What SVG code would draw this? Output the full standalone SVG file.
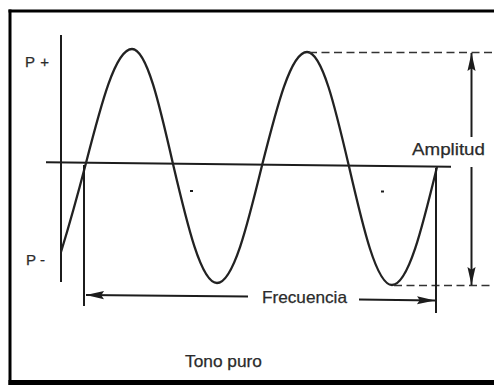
<svg xmlns="http://www.w3.org/2000/svg" width="494" height="385" viewBox="0 0 494 385">
  <style>
    .ln { fill: none; stroke: #1c1c1c; stroke-width: 2; stroke-linecap: butt; }
    .wave { fill: none; stroke: #222; stroke-width: 2.3; stroke-linejoin: round; }
    .dash { fill: none; stroke: #333; stroke-width: 1.6; stroke-dasharray: 8 4.5; }
    .lbl { font-family: "Liberation Sans", Arial, sans-serif; font-size: 16.5px; fill: #2b2b2b; stroke: #2b2b2b; stroke-width: 0.25; }
    .sm { font-size: 15px; }
  </style>
  <defs>
    <marker id="ah" viewBox="0 0 20 10" refX="20" refY="5" markerWidth="20" markerHeight="9" markerUnits="userSpaceOnUse" orient="auto-start-reverse">
      <path d="M0,0.5 L20,5 L0,9.5 L3,5 z" fill="#1c1c1c"/>
    </marker>
  </defs>
  <rect x="0" y="0" width="494" height="385" fill="#ffffff"/>
  <g id="frame">
    <line x1="8.5" y1="11" x2="494" y2="11" stroke="#000" stroke-width="3"/>
    <line x1="10" y1="9.5" x2="10" y2="385" stroke="#000" stroke-width="3"/>
    <rect x="8.5" y="380" width="485.5" height="5" fill="#000"/>
  </g>
  <g id="axes">
    <line class="ln" x1="61" y1="35" x2="61" y2="282" stroke-width="2.5"/>
    <line class="ln" x1="46" y1="162.3" x2="451" y2="166.8"/>
  </g>
  <g id="wave">
    <path class="wave" d="M61,252 C69,226 80,186 86,163 C101,104.6 115.4,49 132,49 C146.8,49 159.6,105.1 173,164 C187.3,225 201.1,283 217,283 C233.3,283 247.3,225.7 262,165.5 C276.7,107.4 290.7,52 307,52 C322.2,52 335.3,107.8 349,166.5 C363,227.2 376.4,285 392,285 C408.3,285 422.3,227.5 437,167"/>
    <line class="ln" x1="190" y1="191" x2="193" y2="191" stroke-width="1.5"/>
    <line class="ln" x1="381" y1="191.5" x2="384" y2="191.5" stroke-width="1.5"/>
  </g>
  <g id="connectors">
    <line class="dash" x1="309" y1="52.5" x2="494" y2="52.5"/>
    <line class="dash" x1="394" y1="285.5" x2="494" y2="285.5"/>
    <line class="ln" x1="84" y1="165" x2="84" y2="306" stroke-width="1.8"/>
    <line class="ln" x1="436" y1="168" x2="436" y2="313" stroke-width="1.8"/>
    <line class="ln" x1="248" y1="296.5" x2="86" y2="295" marker-end="url(#ah)"/>
    <line class="ln" x1="359" y1="299.5" x2="435" y2="300.5" marker-end="url(#ah)"/>
    <line class="ln" x1="471.5" y1="137" x2="471.5" y2="53" stroke-width="2.4" marker-end="url(#ah)"/>
    <line class="ln" x1="471.5" y1="167" x2="471.5" y2="285" stroke-width="2.4" marker-end="url(#ah)"/>
  </g>
  <g id="label-pplus"><text class="lbl sm" x="25" y="67" textLength="24" lengthAdjust="spacing">P+</text></g>
  <g id="label-pminus"><text class="lbl sm" x="26" y="265" textLength="19" lengthAdjust="spacingAndGlyphs">P -</text></g>
  <g id="label-amplitud"><text class="lbl" x="412" y="155" textLength="73" lengthAdjust="spacingAndGlyphs">Amplitud</text></g>
  <g id="label-frecuencia"><text class="lbl" x="262" y="303" textLength="85" lengthAdjust="spacingAndGlyphs">Frecuencia</text></g>
  <g id="label-tono"><text class="lbl" x="185" y="367" textLength="77" lengthAdjust="spacingAndGlyphs">Tono puro</text></g>
</svg>
